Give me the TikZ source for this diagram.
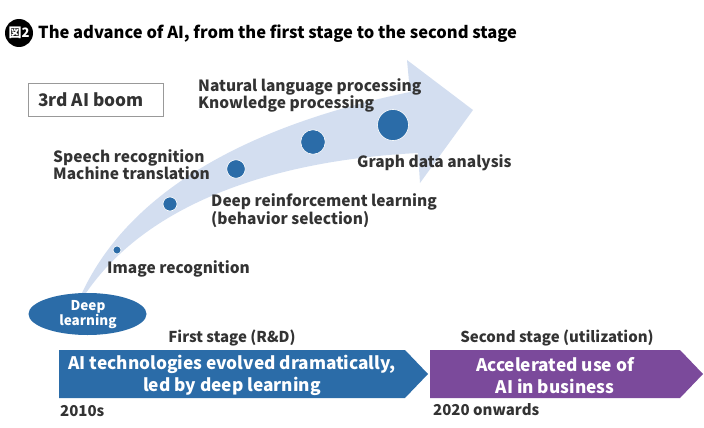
\documentclass[tikz,border=0pt]{standalone}
\usepackage{fontspec}
\setmainfont{Noto Sans CJK JP}
\usetikzlibrary{shapes.geometric}
\definecolor{txt}{HTML}{333333}
\definecolor{dblue}{HTML}{2B6CA8}
\definecolor{lblue}{HTML}{D3DEF0}
\definecolor{purp}{HTML}{7B4A9B}
\tikzset{
  lbl/.style={anchor=west, text=txt, font=\fontsize{15.5}{17.5}\selectfont\bfseries, align=left, inner sep=0pt},
  dot/.style={circle, fill=dblue, draw=white, line width=0.6pt, inner sep=0pt},
  bandtxt/.style={text=white, font=\fontsize{17.3}{21.5}\selectfont\bfseries, align=center, inner sep=0pt},
  stagetxt/.style={text=txt, font=\fontsize{15}{18}\selectfont\bfseries, inner sep=0pt}
}
\begin{document}
\begin{tikzpicture}[x=1pt,y=-1pt]
\useasboundingbox (0,0) rectangle (704,428);
% title
\node[circle, fill=black, minimum size=28pt, inner sep=0pt] (icon) at (19,33) {};
\node[text=white, font=\fontsize{13}{13}\selectfont\bfseries, inner sep=0pt] (iconlbl) at (19,33) {図2};
\node[anchor=west, text=black, font=\fontsize{16.5}{16.5}\selectfont\bfseries, inner sep=0pt] (title) at (38,34) {The advance of AI, from the first stage to the second stage};
% 3rd AI boom box
\node[draw=gray!80, line width=1pt, minimum width=135pt, minimum height=33pt, inner sep=0pt] (boom) at (95.5,99.5) {};
\node[anchor=west, text=txt, font=\fontsize{17.3}{17}\selectfont\bfseries, inner sep=0pt] (boomlbl) at (38,100) {3rd AI boom};
% big curved arrow
\fill[lblue] (82,293) .. controls (130,190) and (250,125) .. (410,92)
  -- (407,60) -- (473,110) -- (420,183) -- (418,153)
  .. controls (280,160) and (150,200) .. (86,293) -- cycle;
% dots
\node[dot, minimum size=8pt] (d1) at (117,250) {};
\node[dot, minimum size=14pt] (d2) at (170,204) {};
\node[dot, minimum size=18.5pt] (d3) at (236,169) {};
\node[dot, minimum size=24.5pt] (d4) at (313,142) {};
\node[dot, minimum size=31pt] (d5) at (393,125) {};
% labels
\node[lbl] (nlp) at (198,95.5) {Natural language processing\\Knowledge processing};
\node[lbl] (speech) at (53,164.5) {Speech recognition\\Machine translation};
\node[lbl] (graph) at (357,163) {Graph data analysis};
\node[lbl] (drl) at (211,210.5) {Deep reinforcement learning\\(behavior selection)};
\node[lbl] (img) at (107,269) {Image recognition};
% deep learning ellipse
\node[ellipse, fill=dblue, minimum width=118pt, minimum height=42pt, inner sep=0pt] (dl) at (87.5,314) {};
\node[text=white, font=\fontsize{13.5}{15}\selectfont\bfseries, align=center, inner sep=0pt] (dllbl) at (88,314.5) {Deep\\learning};
% stage bands
\fill[dblue] (59,350) -- (405,350) -- (428,374) -- (405,398) -- (59,398) -- cycle;
\fill[purp] (430,350) -- (680,350) -- (703,374) -- (680,398) -- (430,398) -- cycle;
\coordinate (b1c) at (232,375.5);
\coordinate (b2c) at (555,375.5);
\node[bandtxt] (b1) at (b1c) {AI technologies evolved dramatically,\\led by deep learning};
\node[bandtxt] (b2) at (b2c) {Accelerated use of\\AI in business};
\node[stagetxt] (s1) at (232,338) {First stage (R\&D)};
\node[stagetxt] (s2) at (557,338) {Second stage (utilization)};
\node[stagetxt, anchor=west] (y1) at (60,411) {2010s};
\node[stagetxt, anchor=west] (y2) at (433,410) {2020 onwards};
\end{tikzpicture}
\end{document}
